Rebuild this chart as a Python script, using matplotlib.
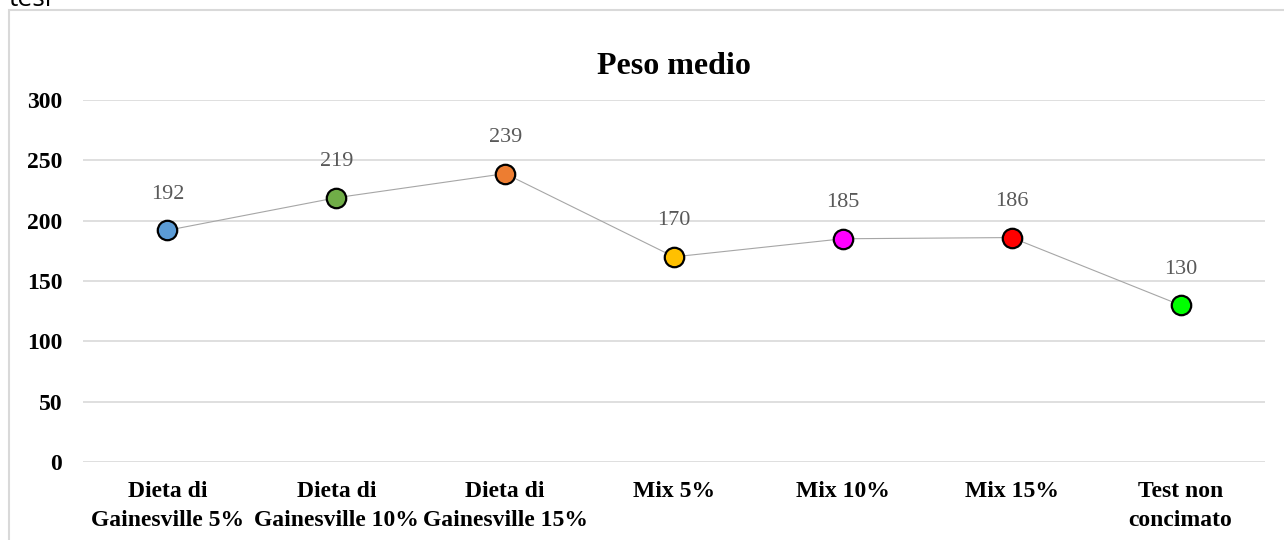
import matplotlib
matplotlib.use("Agg")
import matplotlib.pyplot as plt
from matplotlib.patches import Rectangle

categories = ["Dieta di\nGainesville 5%", "Dieta di\nGainesville 10%", "Dieta di\nGainesville 15%",
              "Mix 5%", "Mix 10%", "Mix 15%", "Test non\nconcimato"]
values = [192, 219, 239, 170, 185, 186, 130]
marker_colors = ["#5B9BD5", "#70AD47", "#ED7D31", "#FFC000", "#FF00FF", "#FF0000", "#00FF00"]
y_ticks = [0, 50, 100, 150, 200, 250, 300]

W, H, DPI = 1284, 540, 100
fig = plt.figure(figsize=(W / DPI, H / DPI), dpi=DPI)
serif = ["Liberation Serif", "DejaVu Serif"]

# outer chart frame (continues past the right and bottom edges)
fig.patches.append(Rectangle((9 / W, -0.2), 1.2, 1.2 - 10 / H, transform=fig.transFigure,
                             fill=False, edgecolor="#D9D9D9", lw=1.5, clip_on=False))
fig.text(9 / W, 1 - 6 / H, "tesi", fontsize=19, family=["Open Sans", "DejaVu Sans"],
         ha="left", va="baseline", color="black")

ax = fig.add_axes([83 / W, 1 - 462 / H, (1265 - 83) / W, (462 - 100) / H])
x = list(range(len(values)))
ax.plot(x, values, color="#A6A6A6", lw=0.8, zorder=2)
for xi, v, c in zip(x, values, marker_colors):
    ax.plot(xi, v, "o", ms=14, mfc=c, mec="black", mew=1.6, zorder=3)
    ax.annotate(str(v), (xi, v), xytext=(0, 26), textcoords="offset points",
                ha="center", va="center", fontsize=16, family=serif, color="#595959")

ax.set_xlim(-0.5, len(values) - 0.5)
ax.set_ylim(0, 300)
ax.set_yticks(y_ticks)
ax.set_xticks(x)
ax.set_xticklabels(categories, fontsize=17, family=serif, fontweight="bold", linespacing=1.45)
ax.set_yticklabels([str(t) for t in y_ticks], fontsize=17, family=serif, fontweight="bold")
ax.tick_params(axis="both", length=0)
ax.tick_params(axis="y", pad=15)
ax.tick_params(axis="x", pad=14)
ax.grid(axis="y", color="#D9D9D9", lw=1.2)
ax.set_axisbelow(True)
for s in ax.spines.values():
    s.set_visible(False)

fig.text(674 / W, 1 - 66 / H, "Peso medio", ha="center", va="center",
         fontsize=23, family=serif, fontweight="bold")

fig.savefig("out.png", dpi=DPI, facecolor="white")
